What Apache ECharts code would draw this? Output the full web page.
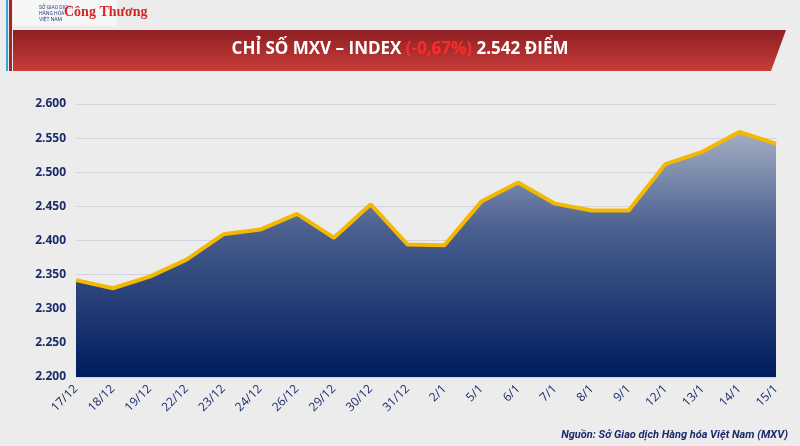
<!DOCTYPE html>
<html>
<head>
<meta charset="utf-8">
<script src="https://cdn.jsdelivr.net/npm/echarts@6/dist/echarts.min.js"></script>
<style>
  html, body { margin: 0; padding: 0; background: #ececec; }
  #chart { width: 800px; height: 446px; }
</style>
</head>
<body>
<div id="chart"></div>
<script>
const dates = ['17/12', '18/12', '19/12', '22/12', '23/12', '24/12', '26/12', '29/12', '30/12', '31/12',
  '2/1', '5/1', '6/1', '7/1', '8/1', '9/1', '12/1', '13/1', '14/1', '15/1'];
const mxvIndex = [2342, 2330, 2347, 2372, 2409, 2416, 2439, 2404, 2453, 2394,
  2393, 2457, 2485, 2454, 2444, 2444, 2512, 2530, 2559, 2542];

const navy = '#1b2a6b';
const chart = echarts.init(document.getElementById('chart'));

chart.setOption({
  backgroundColor: '#ececec',
  animation: false,
  grid: { left: 76, right: 24, top: 104, bottom: 69, containLabel: false },
  graphic: [
    // red title banner
    {
      type: 'polygon',
      shape: { points: [[13, 30], [786, 30], [771, 71], [13, 71]] },
      style: {
        fill: {
          type: 'linear', x: 0, y: 0, x2: 0, y2: 1,
          colorStops: [{ offset: 0, color: '#8e1f22' }, { offset: 1, color: '#c73d39' }]
        }
      }
    },
    { type: 'rect', shape: { x: 6, y: 0, width: 2, height: 71 }, style: { fill: '#3aa0d8' } },
    { type: 'rect', shape: { x: 9, y: 0, width: 3, height: 71 }, style: { fill: '#a8232a' } },
    {
      type: 'text', left: 'center', top: 41,
      style: {
        rich: {
          w: { fill: '#fff', fontSize: 17, fontWeight: 'bold', fontFamily: 'Open Sans' },
          r: { fill: '#ff2a2a', fontSize: 17, fontWeight: 'bold', fontFamily: 'Open Sans' }
        },
        text: '{w|CHỈ SỐ MXV – INDEX }{r|(-0,67%)}{w| 2.542 ĐIỂM}'
      }
    },
    // logo area
    { type: 'rect', shape: { x: 13, y: 0, width: 104, height: 26 }, style: { fill: '#f6f6f6' } },
    {
      type: 'text', left: 39, top: 5,
      style: { text: 'SỞ GIAO DỊCH\nHÀNG HÓA\nVIỆT NAM', fill: '#2d3d80', fontSize: 5, lineHeight: 6, fontFamily: 'Roboto' }
    },
    {
      type: 'text', left: 64, top: 5,
      style: { text: 'Công Thương', fill: '#d4252b', fontSize: 14, fontWeight: 'bold', fontFamily: 'Liberation Serif' }
    },
    {
      type: 'text', right: 12, bottom: 5,
      style: { text: 'Nguồn: Sở Giao dịch Hàng hóa Việt Nam (MXV)', fill: navy, fontSize: 11, fontStyle: 'italic', fontWeight: 'bold', fontFamily: 'Roboto' }
    }
  ],
  xAxis: {
    type: 'category',
    data: dates,
    boundaryGap: false,
    axisLine: { show: false },
    axisTick: { show: false },
    axisLabel: { rotate: 45, color: navy, fontSize: 12, fontFamily: 'Open Sans', margin: 10 }
  },
  yAxis: {
    type: 'value',
    min: 2200,
    max: 2600,
    interval: 50,
    axisLine: { show: false },
    axisTick: { show: false },
    splitLine: { lineStyle: { color: '#d2d4dc' } },
    axisLabel: {
      color: navy, fontSize: 12, fontWeight: 'bold', fontFamily: 'Open Sans', margin: 10,
      formatter: v => (v / 1000).toFixed(3)
    }
  },
  series: [{
    type: 'line',
    data: mxvIndex,
    symbol: 'none',
    lineStyle: { color: '#f5b800', width: 4 },
    areaStyle: {
      origin: 'start',
      opacity: 1,
      color: {
        type: 'linear', x: 0, y: 0, x2: 0, y2: 1,
        colorStops: [{ offset: 0, color: '#a3aec4' }, { offset: 0.4, color: '#4a5f8e' }, { offset: 1, color: '#001c5e' }]
      }
    }
  }]
});
</script>
</body>
</html>
